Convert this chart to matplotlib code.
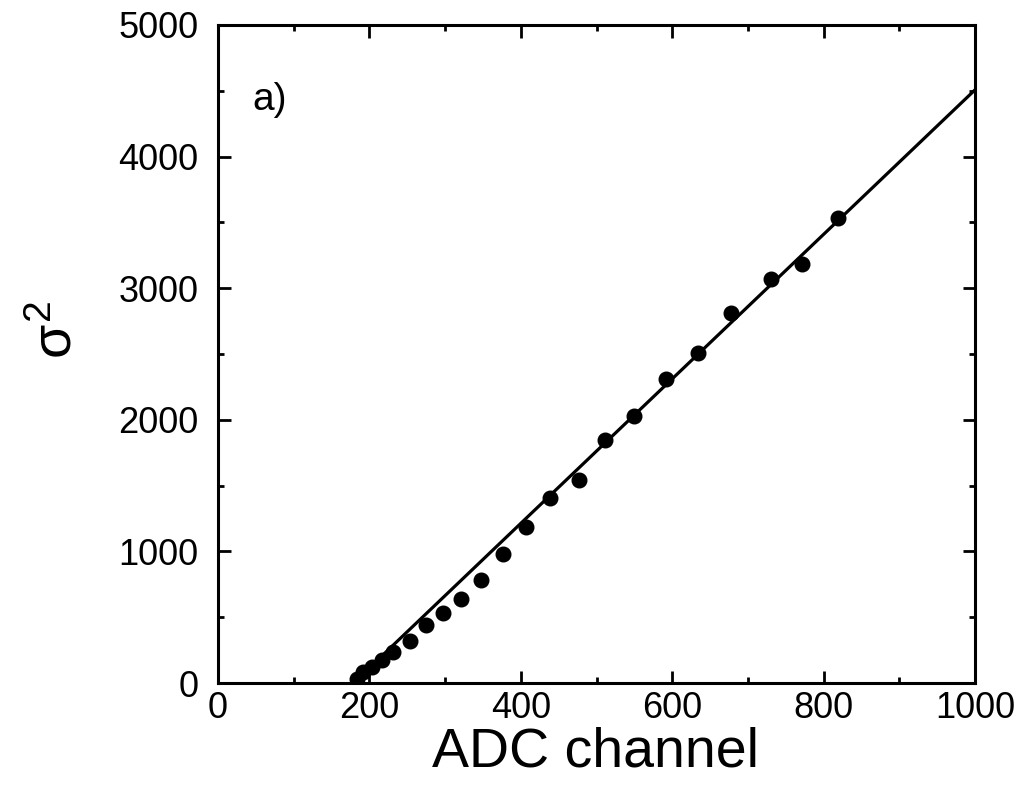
import numpy as np
import matplotlib
matplotlib.use('agg')
import matplotlib.pyplot as plt
from matplotlib.ticker import MultipleLocator

plt.rcParams['font.family'] = ['Liberation Sans', 'DejaVu Sans']
plt.rcParams['mathtext.fontset'] = 'custom'
plt.rcParams['mathtext.rm'] = 'Liberation Sans'
plt.rcParams['mathtext.it'] = 'Liberation Sans'

# measured variance vs ADC channel
adc = [183, 192, 203, 217, 231, 253, 275, 297, 321, 348, 376,
       407, 438, 477, 511, 549, 592, 634, 678, 731, 771, 819]
var = [30, 80, 125, 178, 237, 316, 437, 535, 642, 783, 983,
       1182, 1408, 1543, 1847, 2027, 2308, 2508, 2814, 3068, 3184, 3531]

# linear fit: sigma^2 = slope * (ADC - offset)
fit_offset = 179
fit_slope = 5.49
fit_x = np.array([fit_offset, 1000])
fit_y = fit_slope * (fit_x - fit_offset)

fig = plt.figure(figsize=(10.27, 7.98), dpi=100)
ax = fig.add_axes([0.2123, 0.1441, 0.7371, 0.8246])

ax.plot(fit_x, fit_y, color='black', lw=2.3)
ax.plot(adc, var, 'o', color='black', ms=10.5)

ax.set_xlim(0, 1000)
ax.set_ylim(0, 5000)
ax.xaxis.set_major_locator(MultipleLocator(200))
ax.xaxis.set_minor_locator(MultipleLocator(100))
ax.yaxis.set_major_locator(MultipleLocator(1000))
ax.yaxis.set_minor_locator(MultipleLocator(500))

for s in ax.spines.values():
    s.set_linewidth(2.2)
ax.tick_params(which='both', direction='in', top=True, right=True, width=2)
ax.tick_params(which='major', length=9, labelsize=26)
ax.tick_params(which='minor', length=4.5)
ax.tick_params(axis='x', which='major', pad=6)
ax.tick_params(axis='y', which='major', pad=14)

ax.text(0.498, -0.106, 'ADC channel', transform=ax.transAxes,
        ha='center', va='center', fontsize=40)
ax.text(-0.212, 0.536, r'$\sigma^2$', transform=ax.transAxes,
        ha='center', va='center', fontsize=40, rotation=90)
ax.text(0.046, 0.886, 'a)', transform=ax.transAxes,
        ha='left', va='center', fontsize=28)

plt.savefig('out.png', dpi=100)
plt.close()
